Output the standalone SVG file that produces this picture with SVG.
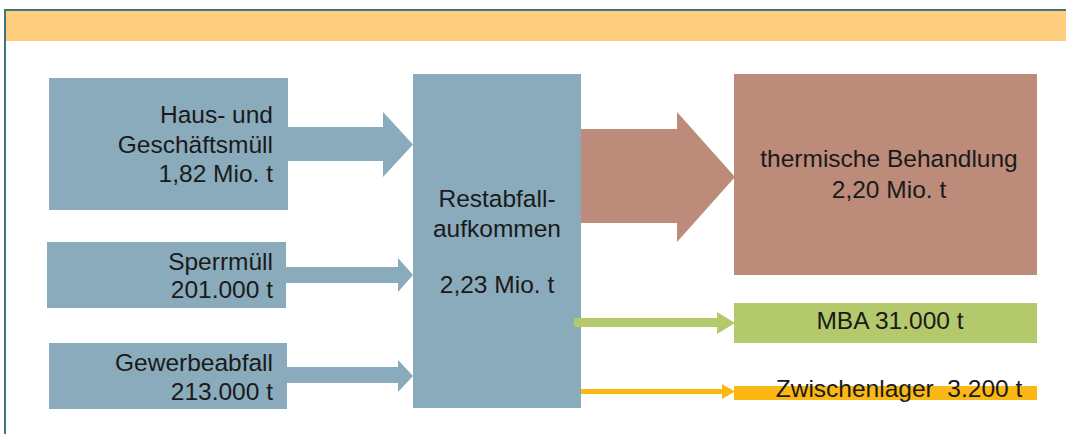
<svg xmlns="http://www.w3.org/2000/svg" width="1066" height="434" viewBox="0 0 1066 434">
  <style>
    text { font-family: "Liberation Sans", Arial, sans-serif; font-size: 24.5px; fill: #1a1a1a; }
    .r { text-anchor: end; }
    .c { text-anchor: middle; }
    .blue { fill: #8aabbc; }
    .brown { fill: #bc8b79; }
    .green { fill: #b4c96b; }
    .orange { fill: #fbb714; }
  </style>
  <rect x="0" y="0" width="1066" height="434" fill="#ffffff"/>
  <g id="frame">
    <rect x="5" y="11" width="1061" height="30" fill="#ffcd7e"/>
    <path d="M5,434 V10 H1066" fill="none" stroke="#44737f" stroke-width="2"/>
  </g>
  <g id="haus">
    <rect class="blue" x="49" y="78" width="239" height="132"/>
    <text class="r" x="273" y="123">Haus- und</text>
    <text class="r" x="273" y="153">Geschäftsmüll</text>
    <text class="r" x="273" y="182">1,82 Mio. t</text>
  </g>
  <g id="sperrmuell">
    <rect class="blue" x="47" y="242" width="239" height="66"/>
    <text class="r" x="273" y="270">Sperrmüll</text>
    <text class="r" x="273" y="298">201.000 t</text>
  </g>
  <g id="gewerbeabfall">
    <rect class="blue" x="49" y="343" width="238" height="66"/>
    <text class="r" x="273" y="371">Gewerbeabfall</text>
    <text class="r" x="273" y="400">213.000 t</text>
  </g>
  <g id="restabfall">
    <rect class="blue" x="413" y="74" width="168" height="334"/>
    <text class="c" x="497" y="207">Restabfall-</text>
    <text class="c" x="497" y="237">aufkommen</text>
    <text class="c" x="497" y="293">2,23 Mio. t</text>
  </g>
  <g id="thermisch">
    <rect class="brown" x="734" y="74" width="303" height="201"/>
    <text class="c" x="889" y="167">thermische Behandlung</text>
    <text class="c" x="889" y="198">2,20 Mio. t</text>
  </g>
  <g id="mba">
    <rect class="green" x="734" y="303" width="303" height="40"/>
    <text class="c" x="890" y="329">MBA 31.000 t</text>
  </g>
  <g id="zwischenlager">
    <rect class="orange" x="734" y="386" width="303" height="14"/>
    <text class="c" x="899" y="397" xml:space="preserve" style="white-space:pre">Zwischenlager  3.200 t</text>
  </g>
  <g id="connectors">
    <polygon class="blue" points="288,127 383,127 383,112 413,144.5 383,177 383,161 288,161"/>
    <polygon class="blue" points="286,267 398,267 398,258 413,275 398,292 398,283 286,283"/>
    <polygon class="blue" points="287,367 398,367 398,360 413,376 398,392 398,383 287,383"/>
    <polygon class="brown" points="581,129 677,129 677,112 735,177 677,242 677,223 581,223"/>
    <polygon class="green" points="574,318 717,318 717,312 735,323 717,334 717,327 574,327"/>
    <polygon class="orange" points="581,389 722,389 722,384 735,391.5 722,399 722,394 581,394"/>
  </g>
</svg>
